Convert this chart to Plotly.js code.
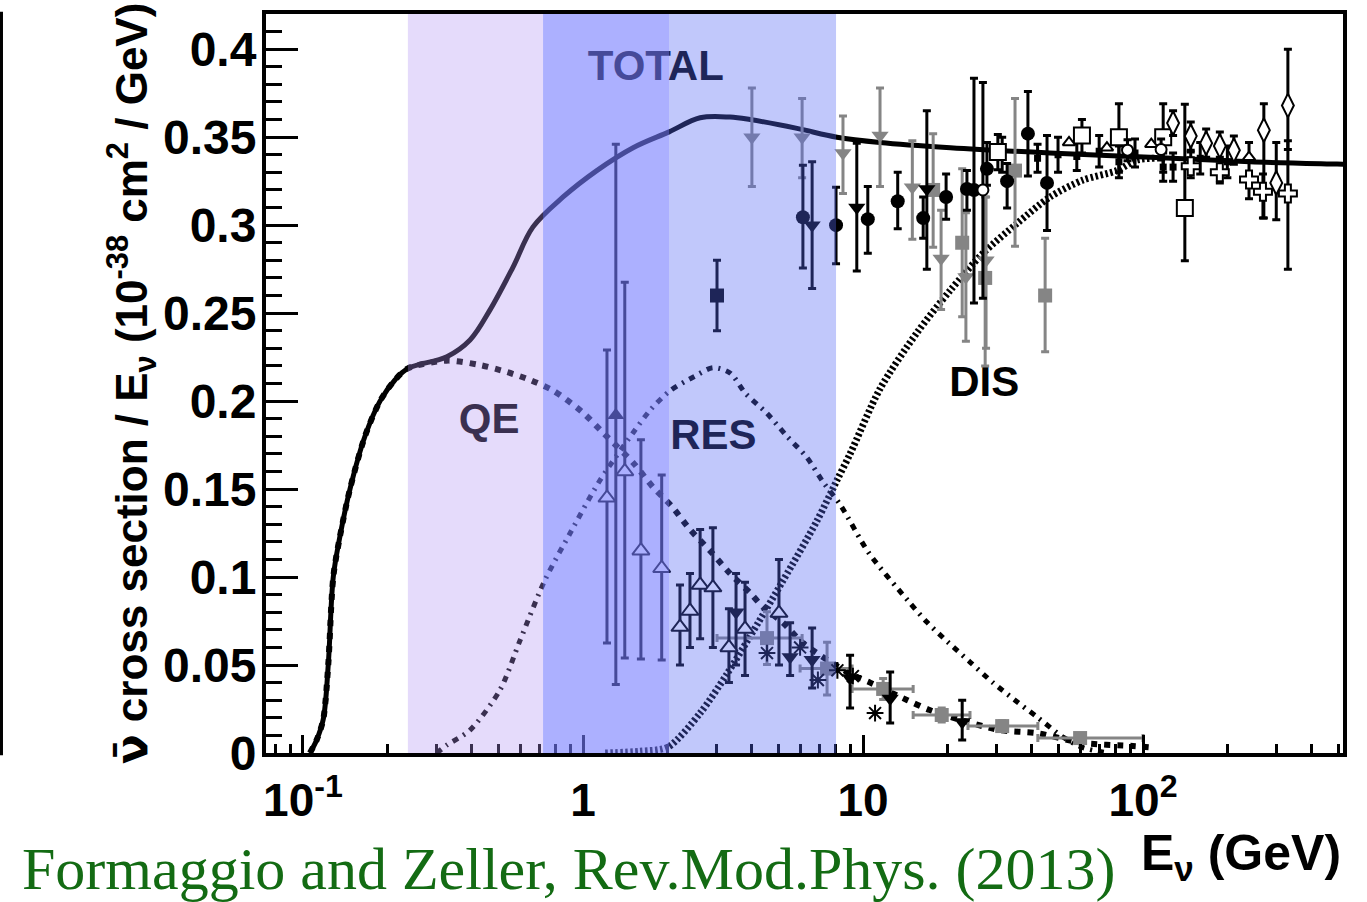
<!DOCTYPE html>
<html><head><meta charset="utf-8">
<script src="https://cdn.plot.ly/plotly-3.0.1.min.js"></script>
<style>html,body{margin:0;padding:0;background:#fff;}#chart{width:1367px;height:902px;}</style>
</head><body><div id="chart"></div>
<script>
// ---------- theory curves (E in GeV, sigma/E in 1e-38 cm^2/GeV) ----------
const totalE = [0.1059,0.1119,0.1181,0.1231,0.1283,0.1355,0.1472,0.1665,0.1884,0.213,0.237,0.3265,0.395,0.465,0.562,0.663,0.849,1.12,1.51,2.03,2.62,3.35,3.95,5.81,8.07,11.5,20.5,46.5,106,241,493,518];
const totalV = [0,0.0074,0.019,0.05,0.1,0.123,0.15,0.18,0.2,0.212,0.2186,0.2252,0.2347,0.2517,0.276,0.299,0.316,0.331,0.344,0.353,0.361,0.3614,0.36,0.355,0.35,0.347,0.344,0.341,0.3386,0.336,0.3347,0.3346];

const qeE = [0.1059,0.1119,0.1181,0.1231,0.1283,0.1355,0.1472,0.1665,0.1884,0.213,0.237,0.3265,0.428,0.535,0.647,0.782,0.99,1.18,1.51,1.78,2.08,2.41,2.84,3.35,3.95,4.39,5.18,6.1,9.0,10.6,14.4,17.3,20.5,30.8,41.8,61,92,110];
const qeV = [0,0.0074,0.019,0.05,0.1,0.123,0.15,0.18,0.2,0.212,0.2186,0.223,0.2205,0.2165,0.212,0.206,0.194,0.182,0.165,0.151,0.14,0.127,0.115,0.102,0.091,0.083,0.074,0.0625,0.045,0.04,0.030,0.0244,0.0205,0.013,0.0113,0.0057,0.004,0.003];

const resE = [0.3,0.3265,0.395,0.506,0.596,0.73,0.9,1.15,1.51,1.74,2.05,2.5,2.91,3.35,3.8,4.54,5.35,6.3,7.2,8.3,10.5,14.4,16.9,20.1,24.1,29.1,34.9,42.2,51.8,61,75];
const resV = [0,0.0045,0.013,0.036,0.064,0.098,0.125,0.155,0.182,0.195,0.206,0.214,0.219,0.216,0.2045,0.193,0.18,0.168,0.154,0.141,0.1136,0.087,0.0744,0.063,0.0517,0.04,0.030,0.02,0.009,0.003,0];

const disE = [1.2,1.6,2.01,2.62,3.27,3.94,5.18,6.85,8.07,8.99,11.5,15.6,20.5,26.8,35.5,46.5,61,80.7,95,110];
const disV = [0,0.001,0.0034,0.0227,0.045,0.066,0.098,0.132,0.155,0.17,0.207,0.239,0.263,0.284,0.301,0.316,0.3256,0.331,0.337,0.338];

// ---------- measurements ----------
const circE  = [6.1,8.01,10.4,13.3,16.4,19.8,23.5,24.9,27.7,32.7,38.8,45.4];
const circV  = [0.3045,0.300,0.3034,0.3136,0.304,0.316,0.3205,0.320,0.332,0.325,0.352,0.324];
const circUp = [0.0295,0.0216,0.0186,0.0164,0.012,0.013,0.0105,0.0635,0.015,0.010,0.024,0.027];
const circDn = [0.0289,0.022,0.0194,0.0156,0.0114,0.0126,0.012,0.0643,0.0093,0.0153,0.024,0.027];

const triDnE  = [3.52,5.49,6.58,6.58,8.99,9.5,12.5,16.9,22.6];
const triDnV  = [0.080,0.0545,0.053,0.300,0.0426,0.310,0.031,0.3205,0.0176];
const triDnUp = [0.022,0.0195,0.018,0.036,0.013,0.0366,0.015,0.0445,0.0124];
const triDnDn = [0.030,0.0105,0.016,0.036,0.017,0.036,0.014,0.0455,0.0102];

const gTriE  = [4.01,6.06,8.48,11.5,15.0,19.0,23.3,27.5];
const gTriV  = [0.350,0.350,0.341,0.351,0.3216,0.281,0.2705,0.280];
const gTriUp = [0.028,0.022,0.021,0.027,0.0264,0.0275,0.0365,0.036];
const gTriDn = [0.028,0.023,0.023,0.029,0.0296,0.029,0.0365,0.05];

const gSqE  = [17.8,22.6,27.3,34.9,44.7];
const gSqV  = [0.320,0.290,0.270,0.331,0.260];
const gSqUp = [0.032,0.042,0.046,0.041,0.0326];
const gSqDn = [0.0325,0.042,0.05,0.043,0.032];

const gBinE   = [4.54,7.44,11.8,19.1,31.4,59.6];
const gBinV   = [0.0653,0.048,0.0364,0.0216,0.0153,0.0085];
const gBinErr = [0.015,0.015,0.006,0.004,0.003,0.002];
const gBinLo  = [1.53,1.48,2.66,4.0,7.7,17.5];
const gBinHi  = [1.52,1.70,3.3,5.0,10.7,40.4];

const bSqE = [3.01], bSqV = [0.26], bSqErr = [0.02];

const oTriE  = [1.218,1.41,1.61,1.91,2.22,2.41,2.62,2.91,3.32,3.79,5.01];
const oTriV  = [0.145,0.160,0.115,0.105,0.0716,0.0807,0.0955,0.094,0.060,0.0705,0.0795];
const oTriUp = [0.084,0.1076,0.063,0.053,0.0239,0.0213,0.0315,0.034,0.022,0.0265,0.0305];
const oTriDn = [0.0825,0.106,0.0616,0.0522,0.0216,0.0207,0.0305,0.034,0.020,0.0265,0.0295];

const fTriE = [1.31], fTriV = [0.192], fTriUp = [0.154], fTriDn = [0.153];

const astE = [4.54,5.96,6.9,8.1,9.2,11.04];
const astV = [0.0568,0.060,0.0415,0.047,0.0437,0.0227];

const oSqE  = [30.3,60.5,82,118,141];
const oSqV  = [0.3415,0.351,0.350,0.350,0.3097];
const oSqUp = [0.010,0.009,0.019,0.019,0.059];
const oSqDn = [0.010,0.010,0.020,0.020,0.030];

const oDiaE  = [128,148,168,188,211,270,299,329];
const oDiaV  = [0.358,0.3506,0.3466,0.345,0.3426,0.354,0.324,0.368];
const oDiaUp = [0.007,0.008,0.008,0.008,0.008,0.015,0.023,0.032];
const oDiaDn = [0.007,0.008,0.008,0.008,0.008,0.050,0.021,0.025];

const oCrE  = [148,188,239,268,329];
const oCrV  = [0.3335,0.330,0.326,0.319,0.318];
const oCrUp = [0.008,0.0086,0.021,0.010,0.030];
const oCrDn = [0.0065,0.006,0.011,0.015,0.043];

const sTriE = [54.4,74.3,107,239];
const sTriV = [0.347,0.344,0.346,0.3386];

const oCircE  = [26.8,88,116];
const oCircV  = [0.320,0.3426,0.343];
const oCircUp = [0.061,0.006,0.006];
const oCircDn = [0.0615,0.006,0.006];

const bsE   = [31.4,42,49.7,58,69.7,82,93.6,118,128,160,200];
const bsV   = [0.340,0.338,0.340,0.339,0.342,0.336,0.341,0.333,0.333,0.338,0.336];
const bsErr = [0.010,0.008,0.010,0.008,0.009,0.009,0.008,0.008,0.008,0.009,0.009];

// ---------- labels ----------
const labelText = ['TOTAL','QE','RES','DIS'];
const labelE = [1.82,0.462,2.92,27.1];
const labelV = [0.3886,0.188,0.179,0.209];

// energy bands [QE-only, overlap, RES-only]
const bandEdges = [0.237,0.72,2.03,8.01];

// ---------- build ----------
const GRAY = '#858585';
function curve(x,y,w,dash,sm){
  return {x:x,y:y,type:'scatter',mode:'lines',hoverinfo:'skip',
    line:{color:'black',width:w,dash:dash,shape:'spline',smoothing:sm}};
}
function pts(x,y,up,dn,marker,ecol){
  const t = {x:x,y:y,type:'scatter',mode:'markers',marker:marker,cliponaxis:false};
  if(up){ t.error_y = {type:'data',symmetric:false,array:up,arrayminus:dn||up,color:ecol||'black',thickness:3,width:4}; }
  return t;
}
const openM = (sym,size)=>({symbol:sym,size:size,color:'white',line:{color:'black',width:2}});

const traces = [
  curve(disE,disV,7,'2.5px,2.5px',0.8),
  curve(resE,resV,5,'6px,6px,2px,6px',0.8),
  curve(qeE,qeV,6,'6px,7px',0.8),
  curve(totalE,totalV,5,'solid',1.0),
  {x:labelE,y:labelV,text:labelText,type:'scatter',mode:'text',textposition:'middle center',hoverinfo:'skip',
   textfont:{family:'Liberation Sans, Arial, sans-serif',size:42,weight:'bold',color:'black'}},
  pts(gTriE,gTriV,gTriUp,gTriDn,{symbol:'triangle-down',size:15,color:GRAY},GRAY),
  pts(gSqE,gSqV,gSqUp,gSqDn,{symbol:'square',size:14,color:GRAY},GRAY),
  Object.assign(pts(gBinE,gBinV,gBinErr,gBinErr,{symbol:'square',size:14,color:GRAY},GRAY),
    {error_x:{type:'data',symmetric:false,array:gBinHi,arrayminus:gBinLo,color:GRAY,thickness:3,width:4}}),
  pts(bsE,bsV,bsErr,bsErr,{symbol:'square',size:7,color:'black'}),
  pts(circE,circV,circUp,circDn,{symbol:'circle',size:14,color:'black'}),
  pts(triDnE,triDnV,triDnUp,triDnDn,{symbol:'triangle-down',size:15,color:'black'}),
  pts(bSqE,bSqV,bSqErr,bSqErr,{symbol:'square',size:14,color:'black'}),
  pts(oTriE,oTriV,oTriUp,oTriDn,openM('triangle-up',15)),
  pts(fTriE,fTriV,fTriUp,fTriDn,{symbol:'triangle-up',size:15,color:'black'}),
  pts(astE,astV,null,null,{symbol:'asterisk-open',size:14,color:'black',line:{color:'black',width:2}}),
  pts(oSqE,oSqV,oSqUp,oSqDn,openM('square',16)),
  pts(oDiaE,oDiaV,oDiaUp,oDiaDn,openM('diamond-tall',17)),
  pts(oCrE,oCrV,oCrUp,oCrDn,openM('cross',15)),
  pts(sTriE,sTriV,null,null,openM('triangle-up',11)),
  pts(oCircE,oCircV,oCircUp,oCircDn,openM('circle',11))
];

const minorX = [];
for(let k=-2;k<=2;k++){ for(let d=2;d<=9;d++){ minorX.push(d*Math.pow(10,k)); } }

const layout = {
  width:1367,height:902,
  margin:{l:266,r:24,t:14,b:149},
  paper_bgcolor:'white',plot_bgcolor:'white',showlegend:false,
  font:{family:'Liberation Sans, Arial, sans-serif',color:'black'},
  xaxis:{type:'log',range:[-1.132,2.714],
    tickvals:[0.1,1,10,100],ticktext:['10<sup>-1</sup>','1','10','10<sup>2</sup>'],
    ticks:'inside',ticklen:18,tickwidth:3,tickcolor:'black',
    showline:true,linewidth:4,linecolor:'black',mirror:true,showgrid:false,zeroline:false,
    tickfont:{size:46,weight:'bold'},ticklabelstandoff:4,
    minor:{tickvals:minorX,ticks:'inside',ticklen:9,tickwidth:3,tickcolor:'black',showgrid:false}},
  yaxis:{range:[0,0.42],tick0:0,dtick:0.05,
    ticks:'inside',ticklen:32,tickwidth:3,tickcolor:'black',
    showline:true,linewidth:4,linecolor:'black',mirror:true,showgrid:false,zeroline:false,
    tickfont:{size:48,weight:'bold'},ticklabelstandoff:-4,
    minor:{dtick:0.01,ticks:'inside',ticklen:16,tickwidth:3,tickcolor:'black',showgrid:false},
    title:{text:'<span style="font-family:DejaVu Sans">\u03BD\u0304</span> cross section / E<sub>\u03BD</sub> (10<sup>-38</sup> cm<sup>2</sup> / GeV)',
      font:{size:44,weight:'bold'},standoff:2}},
  shapes:[
    {type:'rect',xref:'x',yref:'paper',x0:bandEdges[0],x1:bandEdges[1],y0:0,y1:1,layer:'above',line:{width:0},fillcolor:'rgba(176,145,242,0.33)'},
    {type:'rect',xref:'x',yref:'paper',x0:bandEdges[1],x1:bandEdges[2],y0:0,y1:1,layer:'above',line:{width:0},fillcolor:'rgba(117,123,255,0.6)'},
    {type:'rect',xref:'x',yref:'paper',x0:bandEdges[2],x1:bandEdges[3],y0:0,y1:1,layer:'above',line:{width:0},fillcolor:'rgba(83,103,244,0.36)'},
    {type:'line',xref:'paper',yref:'paper',x0:-0.2456,x1:-0.2456,y0:-0.003,y1:1.003,line:{color:'black',width:3}}
  ],
  annotations:[
    {text:'E<sub>\u03BD</sub> (GeV)',xref:'paper',yref:'paper',x:1.0,y:-0.1407,xanchor:'right',yanchor:'middle',showarrow:false,
     font:{size:50,weight:'bold',color:'black'}},
    {text:'Formaggio and Zeller, Rev.Mod.Phys. (2013)',xref:'paper',yref:'paper',x:-0.2284,y:-0.157,xanchor:'left',yanchor:'middle',showarrow:false,
     font:{family:'Liberation Serif, serif',size:60,color:'#136b13'}}
  ]
};

Plotly.newPlot('chart',traces,layout,{staticPlot:true,displayModeBar:false});
</script>
</body></html>
